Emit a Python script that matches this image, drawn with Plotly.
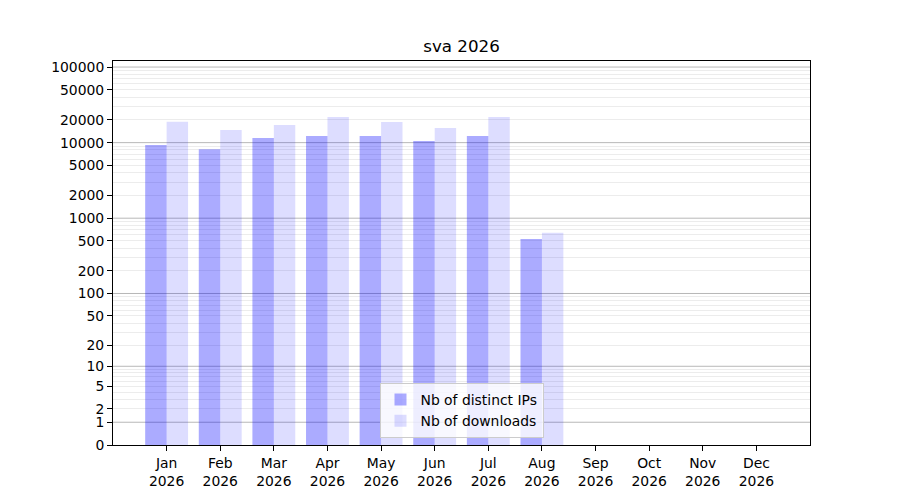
"""
sva 2026 - monthly distinct IPs and downloads (bar chart, log(1+x) y scale)
"""

import plotly.graph_objects as go

# region Data
MONTHS = ["Jan", "Feb", "Mar", "Apr", "May", "Jun",
          "Jul", "Aug", "Sep", "Oct", "Nov", "Dec"]
YEAR = "2026"
DATA_MONTHS = MONTHS[:8]
DISTINCT_IPS = [9300, 8200, 11500, 12200, 12200, 10500, 12200, 530]
DOWNLOADS = [18900, 14700, 17100, 21800, 18700, 15600, 21800, 640]

Y_TICKS = [0, 1, 2, 5, 10, 20, 50, 100, 200, 500, 1000, 2000, 5000,
           10000, 20000, 50000, 100000]
DECADES = [1, 10, 100, 1000, 10000, 100000]
# endregion

FONT = "DejaVu Sans"
TICK_SIZE = 13.9
WIDTH, HEIGHT = 900, 500
PAGE_OFFSET = 8  # body margin of the html page


def shift(vals):
    # axis shows log10(1 + value); plot value+1 on a log axis
    return [v + 1 for v in vals]


minor_vals = [k * d + 1 for d in DECADES[:-1] for k in range(2, 10)]

fig = go.Figure()
fig.add_trace(go.Bar(
    x=DATA_MONTHS, y=shift(DISTINCT_IPS),
    name="Nb of distinct IPs",
    marker=dict(color="rgba(0,0,255,0.33)", line=dict(width=0)),
))
fig.add_trace(go.Bar(
    x=DATA_MONTHS, y=shift(DOWNLOADS),
    name="Nb of downloads",
    marker=dict(color="rgba(0,0,255,0.135)", line=dict(width=0)),
))

for d in DECADES:
    fig.add_shape(
        type="line", xref="paper", x0=0, x1=1, yref="y", y0=d + 1, y1=d + 1,
        line=dict(color="#b8b8b8", width=1), layer="below",
    )

fig.update_layout(
    width=WIDTH, height=HEIGHT,
    paper_bgcolor="white", plot_bgcolor="white",
    font=dict(family=FONT, size=TICK_SIZE, color="black"),
    margin=dict(l=113 - PAGE_OFFSET, r=90 + PAGE_OFFSET,
                t=61 - PAGE_OFFSET, b=55 + PAGE_OFFSET),
    barmode="group", bargap=0.2, bargroupgap=0,
    title=dict(
        text="sva 2026", font=dict(family=FONT, size=16.7, color="black"),
        x=0.5, xref="paper", xanchor="center",
        y=1 - (46 - PAGE_OFFSET) / HEIGHT, yref="container", yanchor="middle",
    ),
    legend=dict(
        x=0.5, xanchor="center", y=0.018, yanchor="bottom",
        bgcolor="rgba(255,255,255,0.8)", bordercolor="#cccccc", borderwidth=1,
        font=dict(family=FONT, size=TICK_SIZE, color="black"),
    ),
    xaxis=dict(
        type="category",
        categoryorder="array", categoryarray=MONTHS,
        tickvals=MONTHS,
        ticktext=[f"{m}<br>{YEAR}" for m in MONTHS],
        range=[-1, 12],
        showgrid=False, zeroline=False,
        showline=True, mirror=True, linecolor="black", linewidth=1,
        ticks="outside", ticklen=5, tickcolor="black",
    ),
    yaxis=dict(
        type="log",
        range=[0, 5.08],
        tickvals=shift(Y_TICKS),
        ticktext=[str(t) for t in Y_TICKS],
        showgrid=False, zeroline=False,
        showline=True, mirror=True, linecolor="black", linewidth=1,
        ticks="outside", ticklen=5, tickcolor="black",
        minor=dict(tickvals=minor_vals, showgrid=True,
                   gridcolor="#ececec", gridwidth=1, ticks=""),
    ),
)

fig.write_html("out.html")
